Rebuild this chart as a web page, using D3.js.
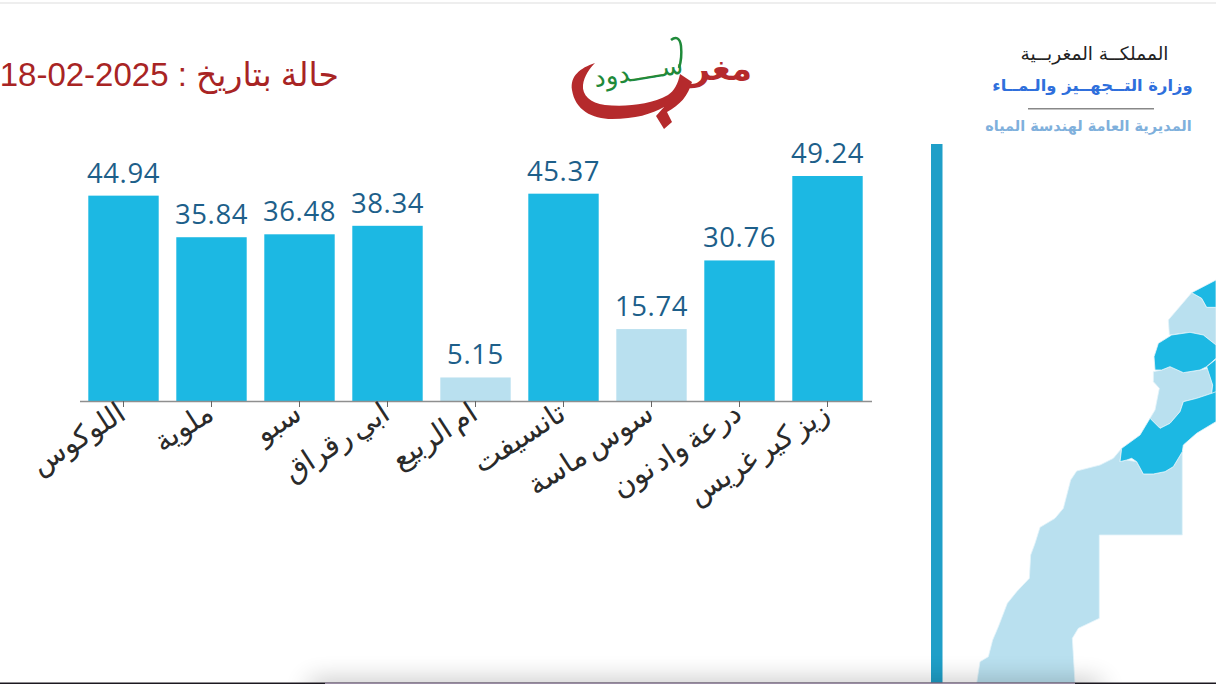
<!DOCTYPE html>
<html>
<head lang="ar">
<meta charset="UTF-8">
<script src="https://cdn.jsdelivr.net/npm/d3@7"></script>
<style>
  html, body { margin: 0; padding: 0; background: #fff; overflow: hidden; }
  svg { display: block; }
</style>
</head>
<body>
<svg width="1216" height="684"></svg>
<script>
var basins = ['اللوكوس', 'ملوية', 'سبو', 'ابي رقراق', 'ام الربيع', 'تانسيفت', 'سوس ماسة', 'درعة واد نون', 'زيز كير غريس'];
var fillRates = [44.94, 35.84, 36.48, 38.34, 5.15, 45.37, 15.74, 30.76, 49.24];
var lowBasins = ['ام الربيع', 'سوس ماسة'];

// map outlines (units: 1/3 px from the map corner)
var mapSahara = [[605,535],[580,565],[540,585],[470,603],[452,630],[430,715],[405,745],[360,772],[345,820],[332,855],[328,925],[290,965],[262,1000],[235,1070],[218,1110],[205,1160],[180,1175],[170,1240],[465,1240],[457,1105],[475,1075],[538,1045],[538,795],[787,795],[787,545],[760,590],[735,605],[700,612],[670,612],[650,575],[620,570],[600,575]];
var mapDraa = [[605,535],[600,575],[620,570],[635,565],[650,575],[670,612],[700,612],[735,605],[760,590],[787,545],[790,525],[830,490],[888,455],[888,340],[875,370],[830,385],[790,395],[780,425],[750,460],[720,475],[690,445],[660,495]];
var mapSouss = [[700,305],[700,335],[718,355],[705,420],[690,445],[720,475],[750,460],[780,425],[790,395],[830,385],[875,370],[878,345],[865,295],[840,300],[790,308],[750,290],[725,300]];
var mapTensift = [[705,300],[702,260],[715,220],[755,195],[810,187],[850,195],[888,225],[888,265],[860,290],[840,300],[790,308],[750,290],[725,300]];
var mapOum = [[888,268],[860,290],[878,345],[875,370],[888,365]];
var mapUpper = [[815,68],[745,150],[748,195],[810,187],[850,195],[888,225],[888,112],[860,112],[845,85]];
var mapTop = [[815,68],[888,30],[888,112],[860,112],[845,85]];

var DARK = '#1cb8e3', LIGHT = '#b9e0ef';
var svg = d3.select('svg');

var defs = svg.append('defs');
defs.append('filter').attr('id', 'soft').attr('x', '-10%').attr('y', '-200%').attr('width', '120%').attr('height', '500%')
    .append('feGaussianBlur').attr('stdDeviation', 13);

svg.append('rect').attr('x', 0).attr('y', 2).attr('width', 1216).attr('height', 2).attr('fill', '#eeeeee');

// chart
var x = d3.scaleBand().domain(basins).range([79.5, 871.5]).paddingInner(0.2).paddingOuter(0.1);
var y = d3.scaleLinear().domain([0, 49.24]).range([401, 176]);

svg.append('g').selectAll('rect').data(basins).enter().append('rect')
    .attr('x', function (d) { return x(d); })
    .attr('y', function (d, i) { return y(fillRates[i]); })
    .attr('width', x.bandwidth())
    .attr('height', function (d, i) { return y(0) - y(fillRates[i]); })
    .attr('fill', function (d) { return lowBasins.indexOf(d) >= 0 ? LIGHT : DARK; });

svg.append('g').selectAll('text').data(basins).enter().append('text')
    .attr('x', function (d) { return x(d) + x.bandwidth() / 2; })
    .attr('y', function (d, i) { return y(fillRates[i]) - 13; })
    .attr('text-anchor', 'middle')
    .attr('font-family', 'Open Sans')
    .attr('font-size', 27.5)
    .attr('letter-spacing', 0.6)
    .attr('fill', '#1d5f8a')
    .text(function (d, i) { return fillRates[i].toFixed(2); });

var axis = svg.append('g').attr('transform', 'translate(0,401)')
    .call(d3.axisBottom(x).tickSize(6).tickSizeOuter(0));
axis.select('.domain').attr('stroke', '#8f8f8f').attr('stroke-width', 1.5);
axis.selectAll('.tick line').attr('stroke', '#666');
axis.selectAll('.tick text')
    .attr('font-family', 'DejaVu Sans')
    .attr('font-size', 29)
    .attr('word-spacing', -5)
    .attr('fill', '#2a2a2a')
    .attr('text-anchor', 'end')
    .attr('dy', 0)
    .attr('y', 0)
    .attr('transform', 'translate(4,17) rotate(-33)');

// title and logos
svg.append('text').attr('x', 339).attr('y', 86)
    .attr('text-anchor', 'start').attr('direction', 'rtl')
    .attr('font-family', 'Liberation Sans, DejaVu Sans').attr('font-size', 33).attr('fill', '#a82424')
    .text('حالة بتاريخ : \u206618-02-2025\u2069');

var logo = svg.append('g');
logo.append('path')
    .attr('d', 'M595,63 C580,68 570,76 572,90 C575,110 592,119 612,119 C635,119 652,114 664,107 L656,116 L664,129 L672,122 L667,112 C680,105 688,96 692,82 L680,74 C678,84 674,91 668,95 C650,105 625,107 605,105 C590,103 582,95 583,85 C584,76 590,68 595,63 Z')
    .attr('fill', '#b52a2c');
logo.append('text').attr('transform', 'translate(752,80)')
    .attr('text-anchor', 'start').attr('direction', 'rtl')
    .attr('font-family', 'DejaVu Sans').attr('font-weight', 'bold').attr('font-size', 34).attr('fill', '#b52a2c')
    .text('مغر');
logo.append('text').attr('transform', 'translate(684,73) rotate(-9)')
    .attr('text-anchor', 'start').attr('direction', 'rtl')
    .attr('font-family', 'DejaVu Sans').attr('font-size', 26).attr('fill', '#1f8a3a')
    .text('ســــدود');
logo.append('path')
    .attr('d', 'M671,40 C676,36 680,38 681,46 C682,56 681,62 679,68')
    .attr('fill', 'none').attr('stroke', '#1f8a3a').attr('stroke-width', 2.5);

var ministry = svg.append('g').attr('font-family', 'DejaVu Sans').attr('text-anchor', 'middle');
ministry.append('text').attr('x', 1094.5).attr('y', 60).attr('font-size', 18.6).attr('fill', '#222').text('المملكــة المغربــية');
ministry.append('text').attr('x', 1092.5).attr('y', 91).attr('font-size', 16.4).attr('font-weight', 'bold').attr('fill', '#2f6fdc').text('وزارة التــجهــيز والـمــاء');
ministry.append('rect').attr('x', 1028).attr('y', 108).attr('width', 126).attr('height', 1.5).attr('fill', '#888');
ministry.append('text').attr('x', 1088.5).attr('y', 131).attr('font-size', 14.5).attr('font-weight', 'bold').attr('fill', '#7fb0dc').text('المديرية العامة لهندسة المياه');

// map
var mx = d3.scaleLinear().domain([0, 888]).range([920, 1216]);
var my = d3.scaleLinear().domain([0, 1242]).range([270, 684]);
var outline = d3.line().x(function (d) { return mx(d[0]); }).y(function (d) { return my(d[1]); }).curve(d3.curveLinearClosed);

svg.append('rect').attr('x', 931).attr('y', 144).attr('width', 11.5).attr('height', 540).attr('fill', '#1f9fc8');

var regions = [
    { pts: mapSahara, fill: LIGHT },
    { pts: mapUpper, fill: LIGHT },
    { pts: mapSouss, fill: LIGHT },
    { pts: mapDraa, fill: DARK },
    { pts: mapTensift, fill: DARK },
    { pts: mapOum, fill: DARK },
    { pts: mapTop, fill: DARK }
];
svg.append('g').selectAll('path').data(regions).enter().append('path')
    .attr('d', function (d) { return outline(d.pts); })
    .attr('fill', function (d) { return d.fill; })
    .attr('stroke', '#e4f4fa')
    .attr('stroke-width', 0.8);

// screen shadow along the bottom
svg.append('rect').attr('x', 310).attr('y', 682).attr('width', 790).attr('height', 16)
    .attr('fill', '#000').attr('opacity', 0.3).attr('filter', 'url(#soft)');
svg.append('rect').attr('x', 0).attr('y', 682.5).attr('width', 1216).attr('height', 1.5).attr('fill', '#1c1820');
svg.append('rect').attr('x', 325).attr('y', 682.5).attr('width', 750).attr('height', 1.5).attr('fill', '#9a8ca4');
</script>
</body>
</html>
